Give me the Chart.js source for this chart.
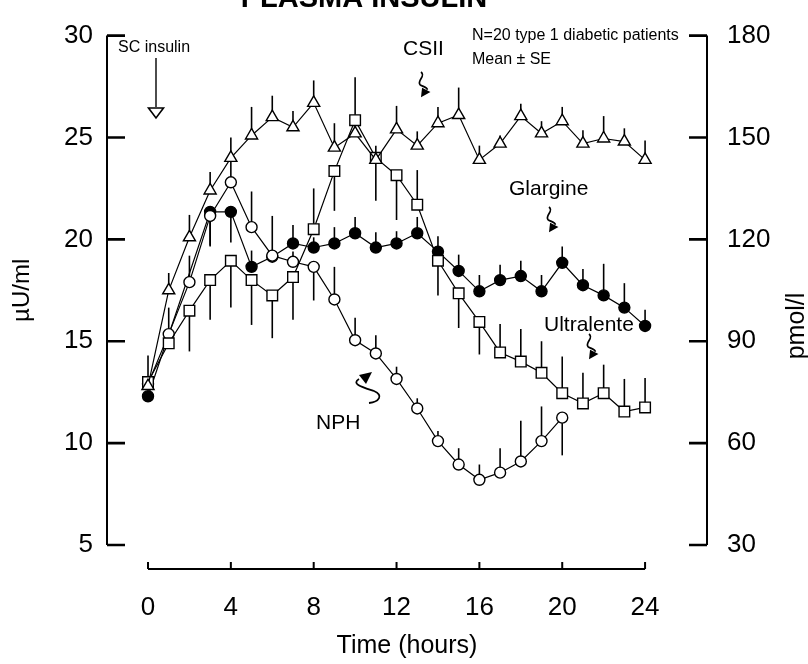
<!DOCTYPE html>
<html>
<head>
<meta charset="utf-8">
<script src="https://cdn.jsdelivr.net/npm/chart.js@4.4.1/dist/chart.umd.min.js"></script>
<style>
  html, body { margin: 0; padding: 0; background: #fff; }
  #wrap { width: 808px; height: 664px; }
</style>
</head>
<body>
<div id="wrap"><canvas id="chart" width="808" height="664"></canvas></div>
<script>
const FONT = 'Arial, "Liberation Sans", Helvetica, sans-serif';

// time points (hours)
const hours = [0, 1, 2, 3, 4, 5, 6, 7, 8, 9, 10, 11, 12, 13, 14, 15, 16, 17, 18, 19, 20, 21, 22, 23, 24];

// plasma insulin, uU/ml
const csii = [12.8, 17.5, 20.1, 22.4, 24.0, 25.1, 26.0, 25.5, 26.7, 24.5, 25.2, 23.9, 25.4, 24.6, 25.7, 26.1, 23.9, 24.7, 26.05, 25.2, 25.8, 24.7, 24.95, 24.8, 23.9];
const ultralente = [13.0, 14.9, 16.5, 18.0, 18.95, 18.0, 17.25, 18.15, 20.5, 23.35, 25.85, 24.0, 23.15, 21.7, 18.95, 17.35, 15.95, 14.45, 14.0, 13.45, 12.45, 11.95, 12.45, 11.55, 11.75];
const nph = [12.9, 15.35, 17.9, 21.15, 22.8, 20.6, 19.2, 18.9, 18.65, 17.05, 15.05, 14.4, 13.15, 11.7, 10.1, 8.95, 8.2, 8.55, 9.1, 10.1, 11.25, null, null, null, null];
const glargine = [12.3, null, null, 21.35, 21.35, 18.65, 19.15, 19.8, 19.6, 19.8, 20.3, 19.6, 19.8, 20.3, 19.4, 18.45, 17.45, 18.0, 18.2, 17.45, 18.85, 17.75, 17.25, 16.65, 15.75];

// SE (signed: + drawn upward, - drawn downward)
const csiiErr = [1.5, 0.85, 1.1, 0.9, 1.0, 1.4, 1.05, 0.8, 1.1, 1.2, 0.8, 0.7, 1.15, 0.7, 0.8, 1.35, 0.7, 0.4, 0.6, 0.6, 0.7, 0.65, 1.1, 0.65, 0.95];
const ultralenteErr = [0, 0, -2.0, -1.95, -2.3, -2.2, -2.1, -2.1, 2.0, -1.95, 2.1, -2.1, -2.2, 1.7, -1.7, -1.7, -1.6, 1.4, 1.6, 1.55, 1.8, 1.5, 1.4, 1.6, 1.45];
const nphErr = [0, 1.3, 1.3, -1.5, 1.1, 1.75, 0, 0.5, -1.65, 1.6, 1.1, 0.9, 0.6, 0.5, 0.5, 0.8, 0.75, 1.2, 2.0, 1.7, -1.85, 0, 0, 0, 0];
const glargineErr = [0, 0, 0, -1.65, -1.5, 0.8, 2.0, 0.9, 0.5, 0.8, 0.8, 0.75, 0.6, 0.8, 0.75, 0.8, 0.8, 0.75, 0.75, 0.8, 0.8, 0.8, 1.55, 1.2, 0.8];

const xTicks = [0, 4, 8, 12, 16, 20, 24];
const yTicks = [5, 10, 15, 20, 25, 30];
const y2Ticks = [30, 60, 90, 120, 150, 180];

const pts = (vals) => hours.map((h, i) => ({ x: h, y: vals[i] }));

// little wavy label arrow, pointing down-left at the end
function squiggle(ctx, x, y, s) {
  ctx.save();
  ctx.translate(x, y);
  ctx.scale(s, s);
  ctx.lineWidth = 1.7 / s;
  ctx.beginPath();
  ctx.moveTo(0, 0);
  ctx.bezierCurveTo(5, 4, -4, 8, -1, 12);
  ctx.bezierCurveTo(1, 14, 6, 14, 6, 17);
  ctx.stroke();
  ctx.beginPath();
  ctx.moveTo(0, 24);
  ctx.lineTo(1, 15);
  ctx.lineTo(9, 19);
  ctx.closePath();
  ctx.fill();
  ctx.restore();
}

const errorBars = {
  id: 'errorBars',
  beforeDatasetsDraw(chart) {
    const { ctx, scales: { y } } = chart;
    ctx.save();
    ctx.strokeStyle = '#000';
    ctx.lineWidth = 1.6;
    chart.data.datasets.forEach((ds, i) => {
      const meta = chart.getDatasetMeta(i);
      meta.data.forEach((p, j) => {
        const v = ds.data[j].y;
        const e = ds.errors[j];
        if (v == null || !e) return;
        ctx.beginPath();
        ctx.moveTo(p.x, p.y);
        ctx.lineTo(p.x, y.getPixelForValue(v + e));
        ctx.stroke();
      });
    });
    ctx.restore();
  }
};

const frame = {
  id: 'frame',
  afterDraw(chart) {
    const { ctx, chartArea: a, scales: { x, y, y2 } } = chart;
    ctx.save();
    ctx.strokeStyle = '#000';
    ctx.fillStyle = '#000';
    ctx.lineWidth = 2;
    ctx.beginPath();
    ctx.moveTo(a.left, y.getPixelForValue(30));
    ctx.lineTo(a.left, y.getPixelForValue(5));
    ctx.moveTo(a.right, y2.getPixelForValue(180));
    ctx.lineTo(a.right, y2.getPixelForValue(30));
    ctx.stroke();
    ctx.lineWidth = 2.6;
    ctx.beginPath();
    yTicks.forEach(v => {
      const py = y.getPixelForValue(v);
      ctx.moveTo(a.left, py); ctx.lineTo(a.left + 18, py);
    });
    y2Ticks.forEach(v => {
      const py = y2.getPixelForValue(v);
      ctx.moveTo(a.right, py); ctx.lineTo(a.right - 18, py);
    });
    ctx.stroke();

    // separate time axis
    const ay = a.bottom + 24;
    ctx.lineWidth = 2;
    ctx.beginPath();
    ctx.moveTo(x.getPixelForValue(0), ay);
    ctx.lineTo(x.getPixelForValue(24), ay);
    xTicks.forEach(v => {
      const px = x.getPixelForValue(v);
      ctx.moveTo(px, ay); ctx.lineTo(px, ay - 7);
    });
    ctx.stroke();

    // title (cut off at top)
    ctx.textAlign = 'center';
    ctx.textBaseline = 'alphabetic';
    ctx.font = 'bold 29px ' + FONT;
    ctx.fillText('PLASMA INSULIN', 364, 7);

    // right axis title
    ctx.save();
    ctx.translate(797, 326);
    ctx.rotate(-Math.PI / 2);
    ctx.textBaseline = 'middle';
    ctx.font = '25px ' + FONT;
    ctx.fillText('pmol/l', 0, 0);
    ctx.restore();

    // annotations
    ctx.textAlign = 'left';
    ctx.textBaseline = 'middle';
    ctx.font = '16px ' + FONT;
    ctx.fillText('SC insulin', 118, 48);
    ctx.fillText('N=20 type 1 diabetic patients', 472, 36);
    ctx.fillText('Mean \u00b1 SE', 472, 60);
    ctx.font = '21px ' + FONT;
    ctx.fillText('CSII', 403, 49);
    ctx.fillText('Glargine', 509, 189);
    ctx.fillText('Ultralente', 544, 325);
    ctx.fillText('NPH', 316, 423);

    // SC insulin arrow
    ctx.lineWidth = 1.4;
    ctx.beginPath();
    ctx.moveTo(156, 58);
    ctx.lineTo(156, 107);
    ctx.stroke();
    ctx.lineWidth = 1.6;
    ctx.beginPath();
    ctx.moveTo(148.5, 108);
    ctx.lineTo(163.5, 108);
    ctx.lineTo(156, 118);
    ctx.closePath();
    ctx.stroke();

    squiggle(ctx, 421, 72, 1.05);
    squiggle(ctx, 549, 207, 1.05);
    squiggle(ctx, 589, 334, 1.05);

    // NPH arrow curls up to the right
    ctx.lineWidth = 1.8;
    ctx.beginPath();
    ctx.moveTo(369, 403);
    ctx.bezierCurveTo(379, 402, 384, 395, 374, 391);
    ctx.bezierCurveTo(362, 387, 351, 384, 359, 379);
    ctx.stroke();
    ctx.beginPath();
    ctx.moveTo(372, 372);
    ctx.lineTo(359, 375);
    ctx.lineTo(366, 384);
    ctx.closePath();
    ctx.fill();
    ctx.restore();
  }
};

const base = {
  borderColor: '#000',
  borderWidth: 1.2,
  pointBorderColor: '#000',
  pointBorderWidth: 1.4,
  pointBackgroundColor: '#fff',
  fill: false,
  tension: 0
};

new Chart(document.getElementById('chart'), {
  type: 'line',
  data: {
    datasets: [
      Object.assign({}, base, { label: 'CSII', data: pts(csii), errors: csiiErr, pointStyle: 'triangle', pointRadius: 7 }),
      Object.assign({}, base, { label: 'Ultralente', data: pts(ultralente), errors: ultralenteErr, pointStyle: 'rect', pointRadius: 7.5 }),
      Object.assign({}, base, { label: 'NPH', data: pts(nph), errors: nphErr, pointStyle: 'circle', pointRadius: 5.5 }),
      Object.assign({}, base, {
        label: 'Glargine', data: pts(glargine), errors: glargineErr, pointStyle: 'circle', pointRadius: 5.5,
        pointBackgroundColor: '#000', spanGaps: true,
        segment: { borderDash: c => (c.p0DataIndex === 0 ? [2, 2] : undefined) }
      })
    ]
  },
  options: {
    responsive: false,
    animation: false,
    layout: { padding: { top: 20, left: 0, right: 0, bottom: 0 } },
    plugins: { legend: { display: false }, tooltip: { enabled: false } },
    scales: {
      x: {
        type: 'linear', min: -1.98, max: 26.99, position: 'bottom',
        grid: { display: false, drawTicks: false }, border: { display: false },
        afterBuildTicks: s => { s.ticks = xTicks.map(v => ({ value: v })); },
        afterFit: s => { s.height = 119; },
        ticks: { color: '#000', font: { family: FONT, size: 26 }, padding: 47, maxRotation: 0 },
        title: { display: true, text: 'Time (hours)', color: '#000', font: { family: FONT, size: 25 }, padding: { top: 0, bottom: 3 } }
      },
      y: {
        type: 'linear', min: 5, max: 30, position: 'left',
        grid: { display: false, drawTicks: false }, border: { display: false },
        afterBuildTicks: s => { s.ticks = yTicks.map(v => ({ value: v })); },
        afterFit: s => { s.width = 107; },
        ticks: { color: '#000', font: { family: FONT, size: 26 }, padding: 14 },
        title: { display: true, text: '\u00b5U/ml', color: '#000', font: { family: FONT, size: 24 }, padding: { top: 8, bottom: 0 } }
      },
      y2: {
        type: 'linear', min: 30, max: 180, position: 'right',
        grid: { display: false, drawTicks: false }, border: { display: false },
        afterBuildTicks: s => { s.ticks = y2Ticks.map(v => ({ value: v })); },
        afterFit: s => { s.width = 101; },
        ticks: { color: '#000', font: { family: FONT, size: 26 }, padding: 20 }
      }
    }
  },
  plugins: [errorBars, frame]
});
</script>
</body>
</html>
